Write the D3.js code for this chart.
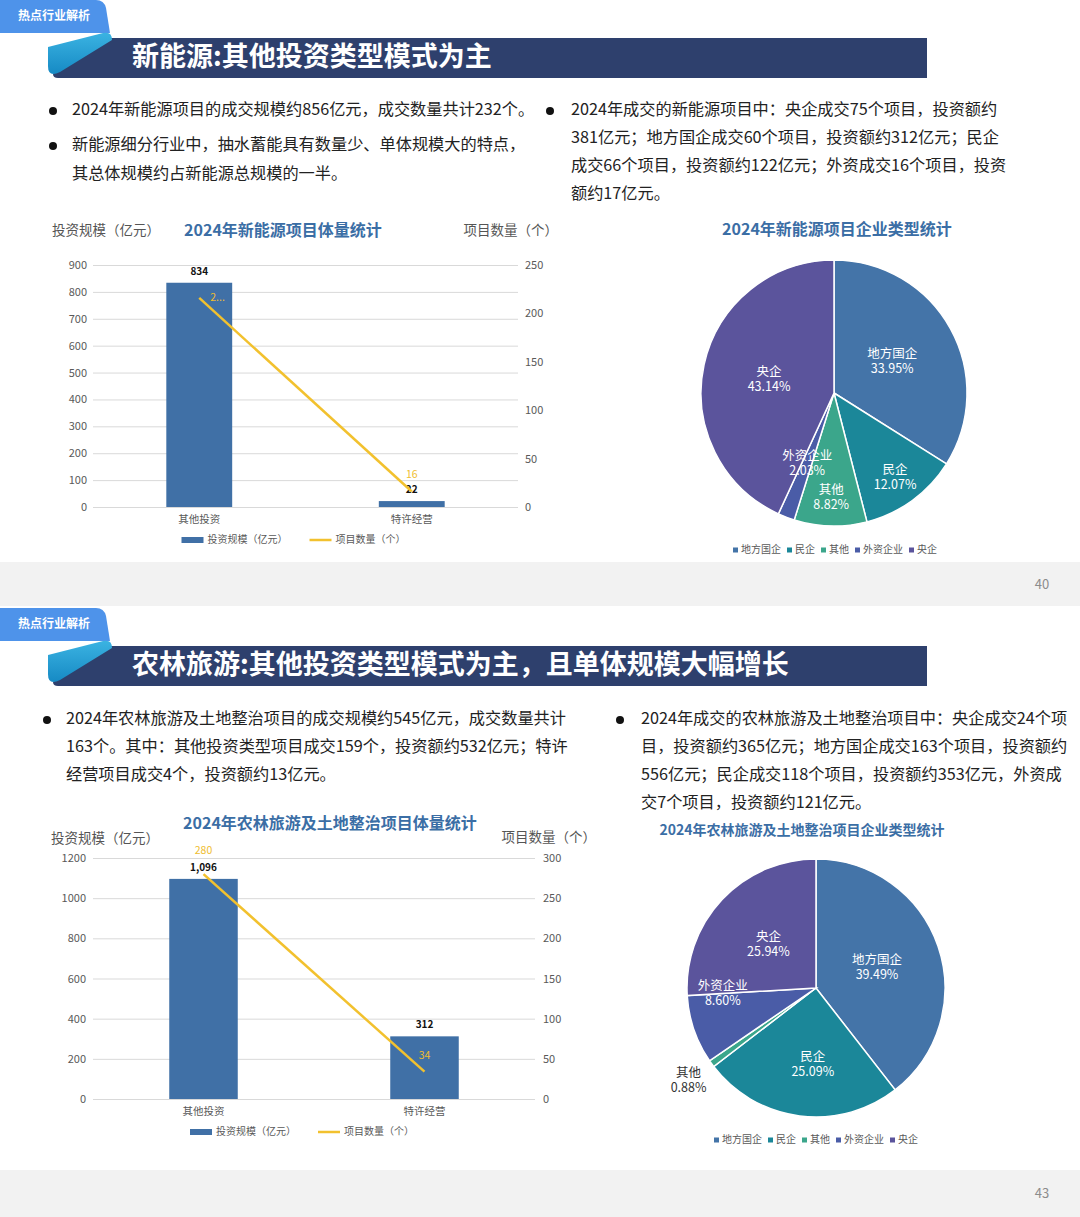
<!DOCTYPE html>
<html>
<head>
<meta charset="utf-8">
<script src="https://cdn.jsdelivr.net/npm/d3@7"></script>
<style>
  body { margin: 0; background: #fff; }
  svg { display: block; font-family: "Noto Sans CJK SC", "Noto Sans", sans-serif; }
</style>
</head>
<body>
<svg id="page" width="1080" height="1217"></svg>
<script>
// ---------- data ----------
const barCats = ["其他投资", "特许经营"];

const energyInvest = [834, 22];          // 投资规模（亿元）
const energyCount = [216, 16];           // 项目数量（个）
const energyCountLabels = ["2...", "16"];
const energyInvestTicks = [0, 100, 200, 300, 400, 500, 600, 700, 800, 900];
const energyCountTicks = [0, 50, 100, 150, 200, 250];

const agriInvest = [1096, 312];
const agriCount = [280, 34];
const agriCountLabels = ["280", "34"];
const agriInvestTicks = [0, 200, 400, 600, 800, 1000, 1200];
const agriCountTicks = [0, 50, 100, 150, 200, 250, 300];

const pieNames = ["地方国企", "民企", "其他", "外资企业", "央企"];
const energyShares = [33.95, 12.07, 8.82, 2.03, 43.14];
const agriShares = [39.49, 25.09, 0.88, 8.60, 25.94];

const energyText = {
  left: [["2024年新能源项目的成交规模约856亿元，成交数量共计232个。"],
         ["新能源细分行业中，抽水蓄能具有数量少、单体规模大的特点，", "其总体规模约占新能源总规模的一半。"]],
  right: [["2024年成交的新能源项目中：央企成交75个项目，投资额约", "381亿元；地方国企成交60个项目，投资额约312亿元；民企",
           "成交66个项目，投资额约122亿元；外资成交16个项目，投资", "额约17亿元。"]]
};
const agriText = {
  left: [["2024年农林旅游及土地整治项目的成交规模约545亿元，成交数量共计", "163个。其中：其他投资类型项目成交159个，投资额约532亿元；特许",
          "经营项目成交4个，投资额约13亿元。"]],
  right: [["2024年成交的农林旅游及土地整治项目中：央企成交24个项", "目，投资额约365亿元；地方国企成交163个项目，投资额约",
           "556亿元；民企成交118个项目，投资额约353亿元，外资成", "交7个项目，投资额约121亿元。"]]
};

// ---------- style ----------
const FONT = '"Noto Sans CJK SC", "Noto Sans", sans-serif';
const pieColors = ["#4474a8", "#1b8799", "#3ba68b", "#4a5ca7", "#5b549c"];
const barColor = "#4070a6";
const lineColor = "#f2c12e";
const titleBlue = "#3b6ea5";

const svg = d3.select("#page");
svg.append("rect").attr("width", 1080).attr("height", 1217).attr("fill", "#fff");

const defs = svg.append("defs");
const grad = defs.append("linearGradient").attr("id", "teal").attr("x1", 0).attr("y1", 0).attr("x2", 0).attr("y2", 1);
grad.append("stop").attr("offset", "0%").attr("stop-color", "#3bb3e2");
grad.append("stop").attr("offset", "100%").attr("stop-color", "#168ac4");

// footer bands + page numbers
function footer(y0, y1, num) {
  svg.append("rect").attr("x", 0).attr("y", y0).attr("width", 1080).attr("height", y1 - y0).attr("fill", "#f2f2f2");
  svg.append("text").attr("x", 1042).attr("y", (y0 + y1) / 2 + 1).attr("text-anchor", "middle")
    .attr("dominant-baseline", "middle").attr("fill", "#8c8c8c").style("font-size", "13px").text(num);
}
footer(562, 606, "40");
footer(1170, 1217, "43");

function header(oy, title) {
  const g = svg.append("g").attr("transform", `translate(0,${oy})`);
  g.append("path").attr("d", "M53,74 Q53,78 58,78 L927,78 L927,38 L108,38 Z").attr("fill", "#2e406d");
  g.append("path").attr("d", "M0,0 H96 Q104,0 106,8 L110,33 H0 Z").attr("fill", "#4e93ea");
  g.append("path").attr("d", "M48,47 L103,33 Q112,31 112,40 L60,72 Q48,78 48,66 Z").attr("fill", "url(#teal)");
  g.append("text").attr("x", 18).attr("y", 17).attr("dominant-baseline", "middle")
    .attr("fill", "#fff").style("font-size", "12px").style("font-weight", 700).text("热点行业解析");
  g.append("text").attr("x", 132).attr("y", 59).attr("dominant-baseline", "middle")
    .attr("fill", "#fff").style("font-size", "27px").style("font-weight", 700).text(title);
}
header(0, "新能源:其他投资类型模式为主");
header(608, "农林旅游:其他投资类型模式为主，且单体规模大幅增长");

function bullets(groups, bx, tx, y0, lineH, gapH) {
  let y = y0;
  groups.forEach(lines => {
    svg.append("circle").attr("cx", bx).attr("cy", y).attr("r", 4).attr("fill", "#111");
    lines.forEach((ln, i) => {
      svg.append("text").attr("x", tx).attr("y", y + i * lineH).attr("dominant-baseline", "middle")
        .attr("fill", "#222").style("font-size", "16.2px").text(ln);
    });
    y += (lines.length - 1) * lineH + gapH;
  });
}
bullets(energyText.left, 53, 72, 111, 29, 35);
bullets(energyText.right, 550, 571, 111, 28, 35);
bullets(agriText.left, 47, 66, 720, 28, 35);
bullets(agriText.right, 620, 641, 720, 28, 35);

// ---------- bar + line ----------
function drawBarLine(cfg) {
  const g = svg.append("g");
  const x = d3.scaleBand().domain(barCats).range([cfg.x0, cfg.x1]).padding(0);
  const yL = d3.scaleLinear().domain([0, d3.max(cfg.investTicks)]).range([cfg.yZero, cfg.yTop]);
  const yR = d3.scaleLinear().domain([0, d3.max(cfg.countTicks)]).range([cfg.yZero, cfg.yTop]);

  const la = g.append("g").attr("transform", `translate(${cfg.x0},0)`)
    .call(d3.axisLeft(yL).tickValues(cfg.investTicks).tickFormat(d3.format("d"))
      .tickSize(-(cfg.x1 - cfg.x0)).tickPadding(cfg.leftPad));
  la.attr("font-family", FONT);
  la.select(".domain").remove();
  la.selectAll("line").attr("stroke", "#d9d9d9");
  la.selectAll("text").attr("fill", "#595959").style("font-size", "11px");

  const ra = g.append("g").attr("transform", `translate(${cfg.x1},0)`)
    .call(d3.axisRight(yR).tickValues(cfg.countTicks).tickFormat(d3.format("d")).tickSize(0).tickPadding(cfg.rightPad));
  ra.attr("font-family", FONT);
  ra.select(".domain").remove();
  ra.selectAll("text").attr("fill", "#595959").style("font-size", "11px");

  const bw = x.bandwidth() * 0.31;
  g.selectAll(".bar").data(cfg.invest).join("rect")
    .attr("x", (d, i) => x(barCats[i]) + (x.bandwidth() - bw) / 2)
    .attr("y", d => yL(d))
    .attr("width", bw)
    .attr("height", d => cfg.yZero - yL(d))
    .attr("fill", barColor);

  g.selectAll(".barlab").data(cfg.invest).join("text")
    .attr("x", (d, i) => x(barCats[i]) + x.bandwidth() / 2)
    .attr("y", d => yL(d) - 8)
    .attr("text-anchor", "middle").attr("fill", "#111")
    .style("font-size", "10px").style("font-weight", 700)
    .text(d => d3.format(",")(d));

  const line = d3.line().x((d, i) => x(barCats[i]) + x.bandwidth() / 2).y(d => yR(d));
  g.append("path").datum(cfg.count).attr("d", line)
    .attr("fill", "none").attr("stroke", lineColor).attr("stroke-width", 2.5);

  g.selectAll(".linelab").data(cfg.count).join("text")
    .attr("x", (d, i) => x(barCats[i]) + x.bandwidth() / 2 + cfg.lineLabelOff[i].dx)
    .attr("y", (d, i) => yR(d) + cfg.lineLabelOff[i].dy)
    .attr("text-anchor", (d, i) => cfg.lineLabelOff[i].anchor || "middle")
    .attr("dominant-baseline", "middle")
    .attr("fill", "#efbd2f").style("font-size", "10.5px")
    .text((d, i) => cfg.countLabels[i]);

  g.selectAll(".xlab").data(barCats).join("text")
    .attr("x", d => x(d) + x.bandwidth() / 2).attr("y", cfg.yZero + 13)
    .attr("text-anchor", "middle").attr("dominant-baseline", "middle")
    .attr("fill", "#595959").style("font-size", "10.5px").text(d => d);

  // titles
  g.append("text").attr("x", cfg.leftTitle[0]).attr("y", cfg.leftTitle[1]).attr("dominant-baseline", "middle")
    .attr("fill", "#555").style("font-size", "13.5px").text("投资规模（亿元）");
  g.append("text").attr("x", cfg.rightTitle[0]).attr("y", cfg.rightTitle[1]).attr("dominant-baseline", "middle")
    .attr("text-anchor", "end").attr("fill", "#555").style("font-size", "13.5px").text("项目数量（个）");
  g.append("text").attr("x", cfg.title[0]).attr("y", cfg.title[1]).attr("dominant-baseline", "middle")
    .attr("text-anchor", "middle").attr("fill", titleBlue).style("font-size", "16px").style("font-weight", 700)
    .text(cfg.titleText);

  // legend
  const ly = cfg.yZero + 33;
  const lg = g.append("g");
  lg.append("rect").attr("x", 0).attr("y", ly - 3).attr("width", 22).attr("height", 6).attr("fill", barColor);
  const t1 = lg.append("text").attr("x", 26).attr("y", ly).attr("dominant-baseline", "middle")
    .attr("fill", "#595959").style("font-size", "10px").text("投资规模（亿元）");
  const w1 = t1.node().getComputedTextLength();
  const lx2 = 26 + w1 + 22;
  lg.append("line").attr("x1", lx2).attr("x2", lx2 + 22).attr("y1", ly).attr("y2", ly)
    .attr("stroke", lineColor).attr("stroke-width", 2.5);
  const t2 = lg.append("text").attr("x", lx2 + 26).attr("y", ly).attr("dominant-baseline", "middle")
    .attr("fill", "#595959").style("font-size", "10px").text("项目数量（个）");
  const total = lx2 + 26 + t2.node().getComputedTextLength();
  lg.attr("transform", `translate(${(cfg.x0 + cfg.x1) / 2 - 12 - total / 2},0)`);
}

drawBarLine({
  x0: 93, x1: 518, yZero: 507, yTop: 265, leftPad: 6, rightPad: 7,
  invest: energyInvest, count: energyCount, countLabels: energyCountLabels,
  investTicks: energyInvestTicks, countTicks: energyCountTicks,
  lineLabelOff: [{ dx: 11, dy: 0, anchor: "start" }, { dx: 0, dy: -16 }],
  leftTitle: [52, 231], rightTitle: [558, 231], title: [283, 232],
  titleText: "2024年新能源项目体量统计"
});
drawBarLine({
  x0: 93, x1: 535, yZero: 1099, yTop: 858, leftPad: 7, rightPad: 8,
  invest: agriInvest, count: agriCount, countLabels: agriCountLabels,
  investTicks: agriInvestTicks, countTicks: agriCountTicks,
  lineLabelOff: [{ dx: 0, dy: -23 }, { dx: 0, dy: -16 }],
  leftTitle: [51, 839], rightTitle: [596, 838], title: [330, 825],
  titleText: "2024年农林旅游及土地整治项目体量统计"
});

// ---------- pies ----------
function labelRadius(f) {
  if (f < 0.01) return 1.22;
  if (f < 0.05) return 0.56;
  if (f < 0.2) return 0.78;
  if (f < 0.3) return 0.56;
  return 0.5;
}

function drawPie(cfg) {
  const g = svg.append("g");
  g.append("text").attr("x", cfg.title[0]).attr("y", cfg.title[1]).attr("dominant-baseline", "middle")
    .attr("text-anchor", "middle").attr("fill", titleBlue).style("font-size", cfg.titleSize)
    .style("font-weight", 700).text(cfg.titleText);

  const pg = g.append("g").attr("transform", `translate(${cfg.cx},${cfg.cy})`);
  const arcs = d3.pie().sort(null).value(d => d)(cfg.shares);
  const arc = d3.arc().innerRadius(0).outerRadius(cfg.r);
  pg.selectAll("path").data(arcs).join("path")
    .attr("d", arc).attr("fill", (d, i) => pieColors[i])
    .attr("stroke", "#fff").attr("stroke-width", 1.5);

  const lab = pg.selectAll(".plab").data(arcs).join("text")
    .attr("transform", (d, i) => {
      const k = labelRadius(d.data / 100) * cfg.r;
      const c = d3.arc().innerRadius(k).outerRadius(k).centroid(d);
      const s = (cfg.labelShift && cfg.labelShift[i]) || [0, 0];
      return `translate(${c[0] + s[0]},${c[1] + s[1]})`;
    })
    .attr("text-anchor", "middle")
    .attr("fill", d => d.data < 1 ? "#333" : "#fff")
    .style("font-size", "12.5px");
  lab.append("tspan").attr("x", 0).attr("y", -3).text((d, i) => pieNames[i]);
  lab.append("tspan").attr("x", 0).attr("y", 12).text(d => d.data.toFixed(2) + "%");

  // legend
  const lg = g.append("g");
  let lx = 0;
  pieNames.forEach((n, i) => {
    lg.append("rect").attr("x", lx).attr("y", cfg.legendY - 2.5).attr("width", 5).attr("height", 5).attr("fill", pieColors[i]);
    const t = lg.append("text").attr("x", lx + 8).attr("y", cfg.legendY).attr("dominant-baseline", "middle")
      .attr("fill", "#595959").style("font-size", "10px").text(n);
    lx += 8 + t.node().getComputedTextLength() + 6;
  });
  lg.attr("transform", `translate(${cfg.legendCx - (lx - 6) / 2},0)`);
}

drawPie({
  cx: 834, cy: 393, r: 133, shares: energyShares,
  title: [837, 231], titleSize: "16px", titleText: "2024年新能源项目企业类型统计",
  legendY: 550, legendCx: 835
});
drawPie({
  cx: 816, cy: 988, r: 129, shares: agriShares,
  title: [802, 831], titleSize: "14px", titleText: "2024年农林旅游及土地整治项目企业类型统计",
  legendY: 1140, legendCx: 816, labelShift: { 1: [6, 4], 3: [2, -28], 4: [5, 6] }
});
</script>
</body>
</html>
